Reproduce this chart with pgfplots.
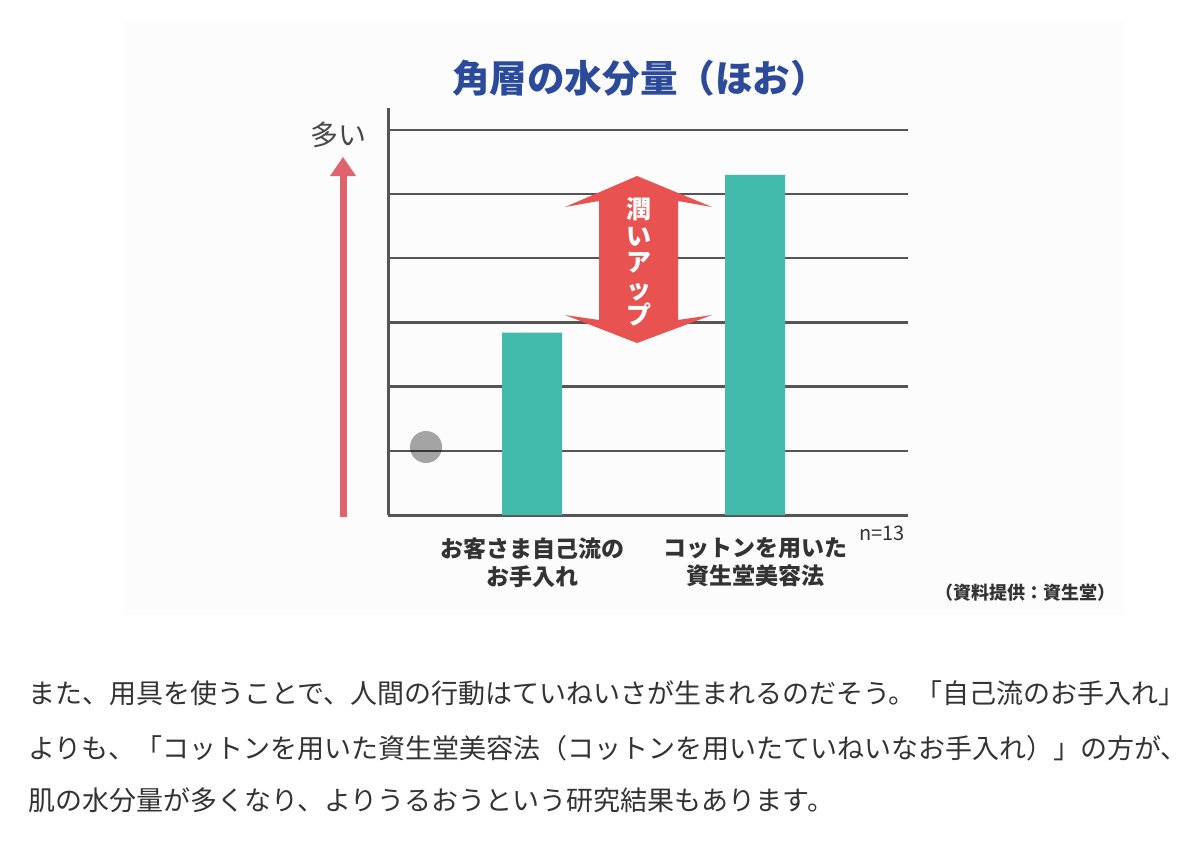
\documentclass[border=0pt]{standalone}
\usepackage{fontspec}
\setmainfont{Noto Sans CJK JP}
\usepackage{pgfplots}
\pgfplotsset{compat=1.18}
\definecolor{barteal}{RGB}{66,186,172}
\definecolor{arrowred}{RGB}{232,82,80}
\definecolor{leftred}{RGB}{222,100,110}
\definecolor{gridgray}{RGB}{85,85,85}
\definecolor{titleblue}{RGB}{44,74,154}
\definecolor{txt}{RGB}{51,51,51}
\begin{document}
\begin{tikzpicture}
\useasboundingbox (0,0) rectangle (600pt,-425.5pt);
\fill[white] (0,0) rectangle (600pt,-425.5pt);
\begin{scope}[x=0.5pt,y=-0.5pt]
\fill[gray!2.5] (124,21) rectangle (1124,615);
\end{scope}
\begin{axis}[
  at={(194pt,-257.5pt)}, anchor=south west,
  scale only axis, width=260pt, height=203.5pt,
  xmin=-0.6457, xmax=1.686, ymin=0, ymax=6.34,
  axis x line=bottom, axis y line=left,
  axis line style={-, gridgray, line width=1.5pt},
  ytick={1,2,3,4,5,6}, yticklabels={}, ymajorgrids,
  grid style={gridgray, line width=1.2pt},
  major tick length=0pt,
  xtick={0,1},
  xticklabels={{お客さま自己流の\\お手入れ},{コットンを用いた\\資生堂美容法}},
  xticklabel style={align=center, font=\bfseries\fontsize{11.5pt}{14pt}\selectfont, text=txt, yshift=-8pt},
  ybar, bar width=30pt,
]
\addplot[fill=barteal, draw=none] coordinates {(0,2.84) (1,5.30)};
\end{axis}
\begin{scope}[x=0.5pt,y=-0.5pt]
% title
\node[font=\bfseries\fontsize{18.8pt}{20pt}\selectfont, text=titleblue] at (640,78) {角層の水分量（ほお）};
% left arrow
\fill[leftred] (339.5,173) rectangle (346.5,517);
\fill[leftred] (330,176) -- (343,157) -- (356,176) -- cycle;
\node[font=\fontsize{14pt}{16pt}\selectfont, text=txt!90] at (338,135) {多い};
% double arrow
\fill[arrowred] (637,176) -- (712,207) -- (678,201) -- (678,320) -- (712,315) -- (637,343) -- (565,315) -- (599,320) -- (599,201) -- (565,207) -- cycle;
\node[text=white, align=center, font=\bfseries\fontsize{12.5pt}{13.3pt}\selectfont] at (639,262) {潤\\い\\ア\\ッ\\プ};
% gray dot
\fill[black, opacity=0.35] (426,447) circle (16);
% notes
\node[font=\fontsize{10pt}{12pt}\selectfont, text=txt] at (882,533) {n=13};
\node[font=\bfseries\fontsize{9pt}{11pt}\selectfont, text=txt] at (1025,593) {（資料提供：資生堂）};
% paragraph
\node[anchor=west, inner sep=0, font=\fontsize{13.5pt}{16pt}\selectfont, text=txt] at (28,693) {また、用具を使うことで、人間の行動はていねいさが生まれるのだそう。「自己流のお手入れ」};
\node[anchor=west, inner sep=0, font=\fontsize{13.5pt}{16pt}\selectfont, text=txt] at (28,748) {よりも、「コットンを用いた資生堂美容法（コットンを用いたていねいなお手入れ）」の方が、};
\node[anchor=west, inner sep=0, font=\fontsize{13.5pt}{16pt}\selectfont, text=txt] at (28,800) {肌の水分量が多くなり、よりうるおうという研究結果もあります。};
\end{scope}
\end{tikzpicture}
\end{document}
